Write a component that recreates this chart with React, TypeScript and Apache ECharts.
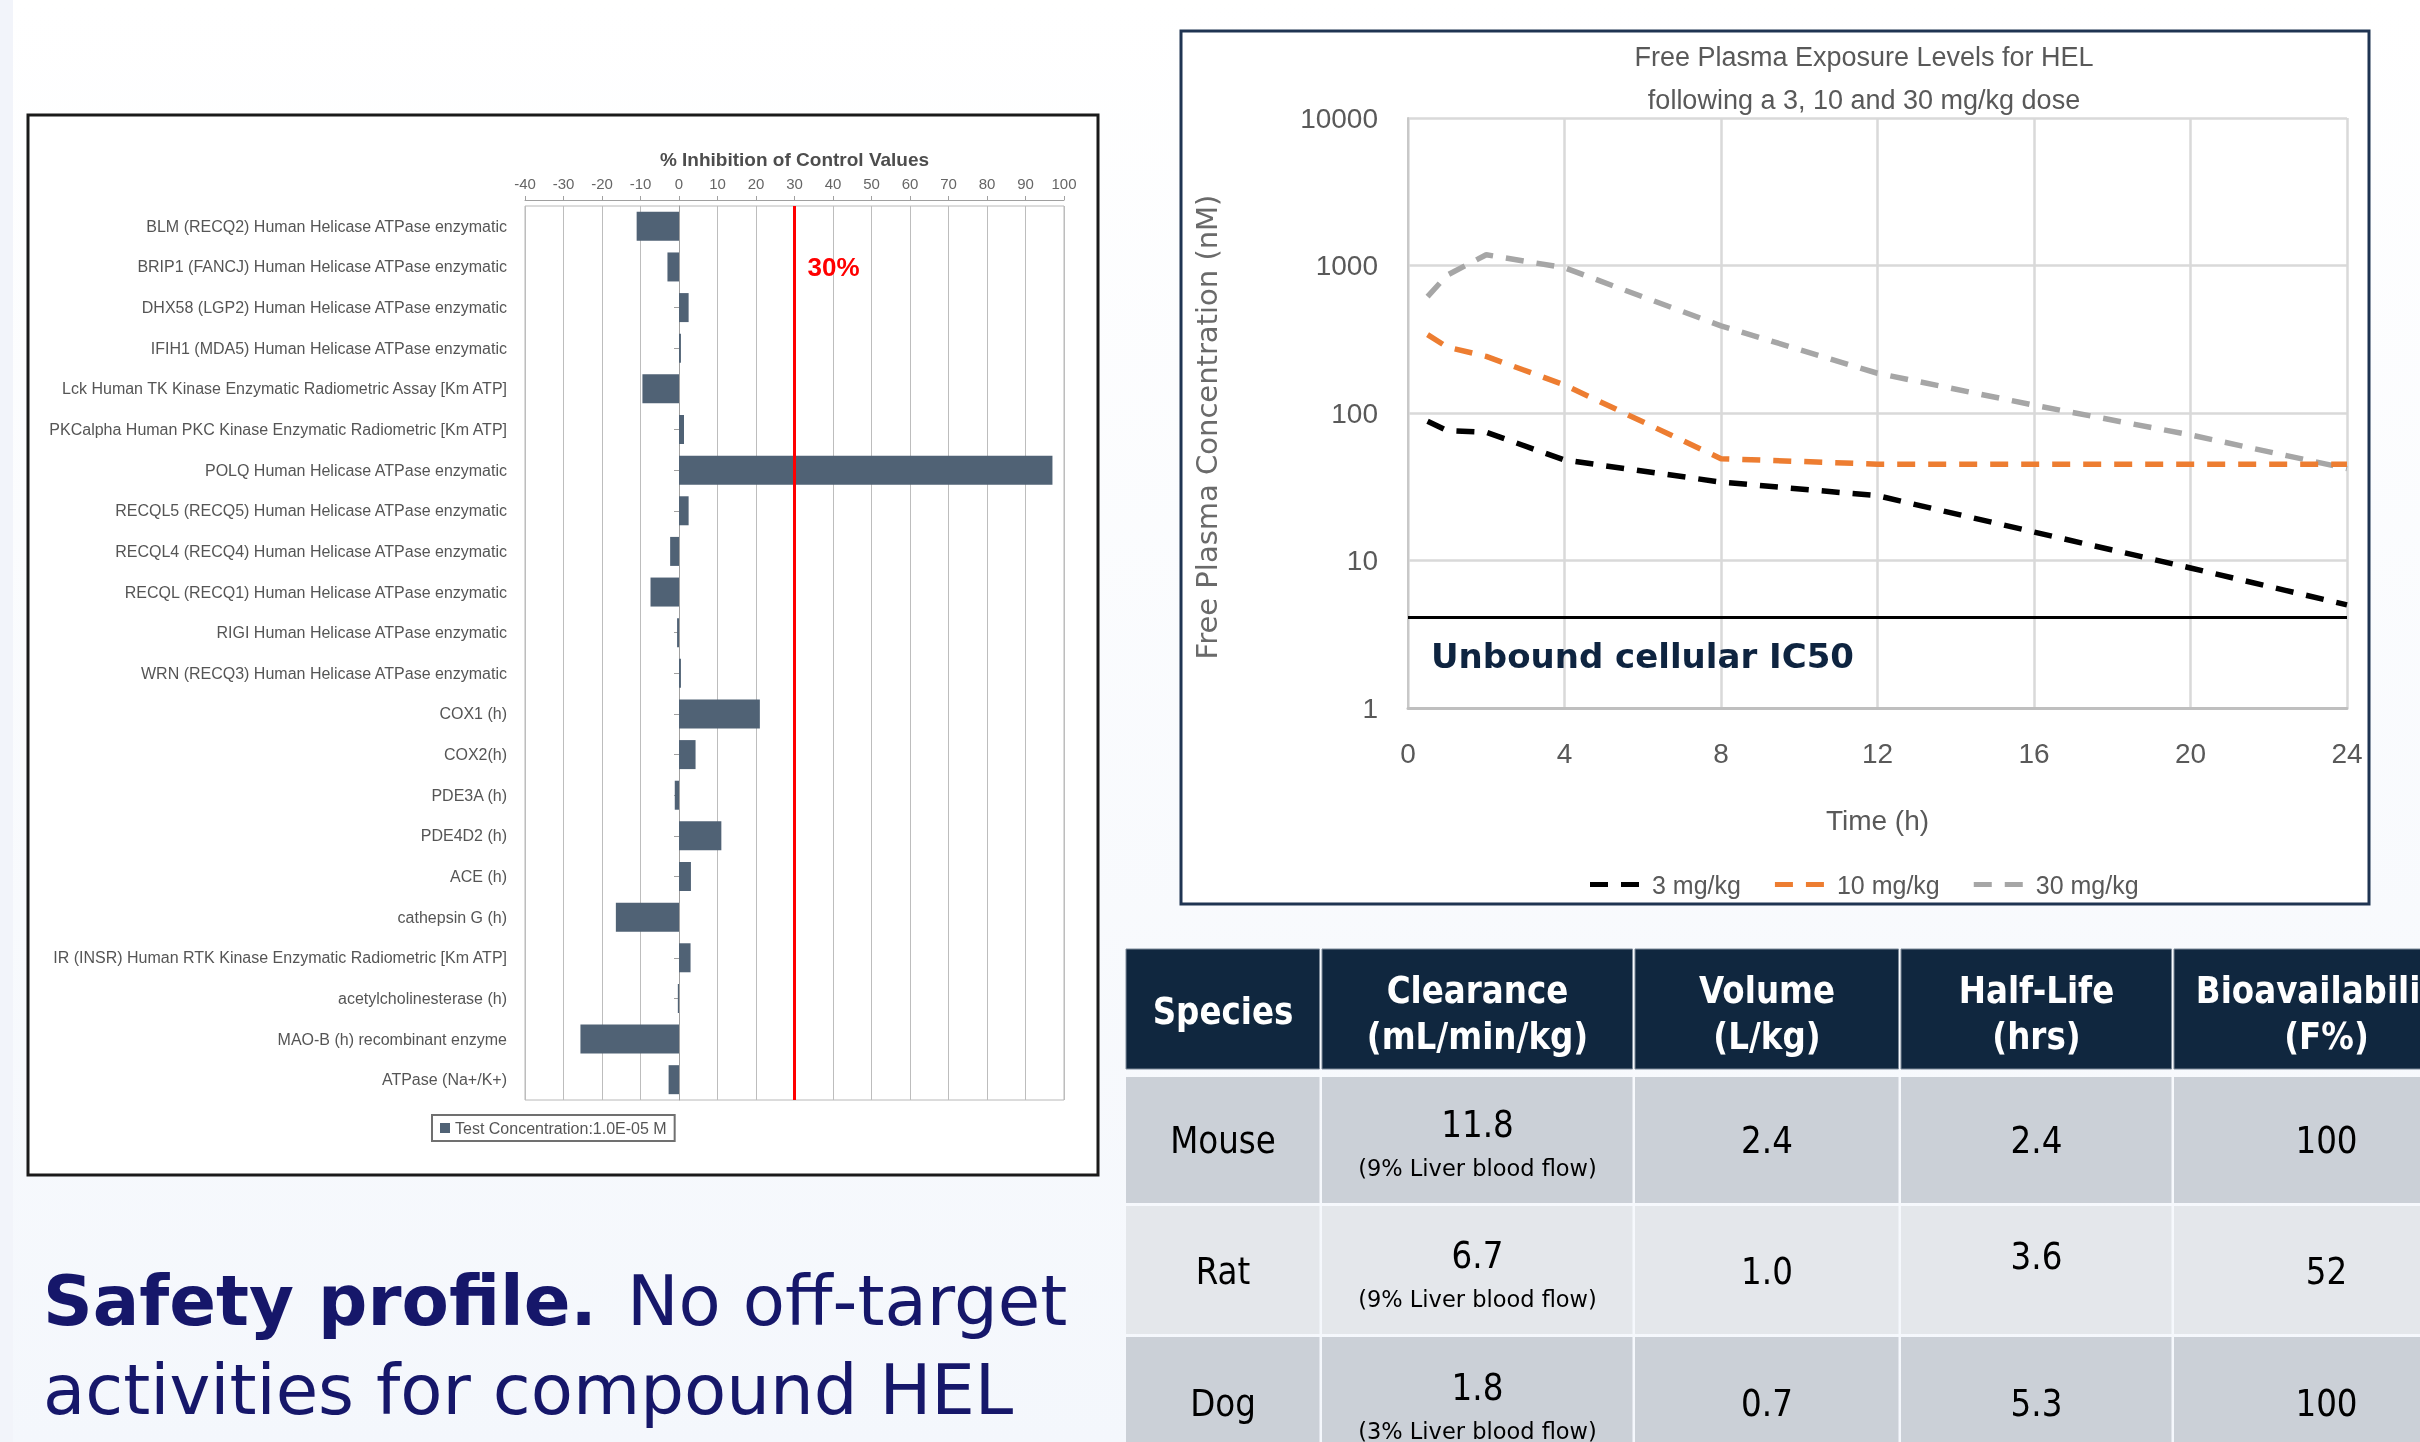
import React, { useEffect, useRef } from 'react';
import * as echarts from 'echarts';

// ---------------- Data: off-target panel ----------------
const assays = [
  'BLM (RECQ2) Human Helicase ATPase enzymatic',
  'BRIP1 (FANCJ) Human Helicase ATPase enzymatic',
  'DHX58 (LGP2) Human Helicase ATPase enzymatic',
  'IFIH1 (MDA5) Human Helicase ATPase enzymatic',
  'Lck Human TK Kinase Enzymatic Radiometric Assay [Km ATP]',
  'PKCalpha Human PKC Kinase Enzymatic Radiometric [Km ATP]',
  'POLQ Human Helicase ATPase enzymatic',
  'RECQL5 (RECQ5) Human Helicase ATPase enzymatic',
  'RECQL4 (RECQ4) Human Helicase ATPase enzymatic',
  'RECQL (RECQ1) Human Helicase ATPase enzymatic',
  'RIGI Human Helicase ATPase enzymatic',
  'WRN (RECQ3) Human Helicase ATPase enzymatic',
  'COX1 (h)',
  'COX2(h)',
  'PDE3A (h)',
  'PDE4D2 (h)',
  'ACE (h)',
  'cathepsin G (h)',
  'IR (INSR) Human RTK Kinase Enzymatic Radiometric [Km ATP]',
  'acetylcholinesterase (h)',
  'MAO-B (h) recombinant enzyme',
  'ATPase (Na+/K+)',
];
const inhibition = [-11, -3, 2.5, 0.5, -9.5, 1.3, 97, 2.5, -2.3, -7.4, -0.5, 0.5, 21, 4.3, -1.1, 11, 3.1, -16.4, 3, -0.3, -25.6, -2.7];
const barSeriesName = 'Test Concentration:1.0E-05 M';
const threshold = 30;

// ---------------- Data: PK exposure ----------------
const hours = [0.5, 1, 2, 4, 8, 12, 16, 20, 24];
const dose3 = [88, 76, 74, 48, 34, 27.5, 15.6, 8.9, 5.0];
const dose10 = [340, 280, 242, 155, 49, 45, 45, 45, 45];
const dose30 = [616, 860, 1183, 965, 390, 186, 113, 71, 42];
const doseNames = ['3 mg/kg', '10 mg/kg', '30 mg/kg'];
const ic50 = 4.1;

// ---------------- Data: PK table ----------------
const tableHeaders = [['Species'], ['Clearance', '(mL/min/kg)'], ['Volume', '(L/kg)'], ['Half-Life', '(hrs)'], ['Bioavailability', '(F%)']];
const species = ['Mouse', 'Rat', 'Dog'];
const clearance = ['11.8', '6.7', '1.8'];
const clearanceNote = ['(9% Liver blood flow)', '(9% Liver blood flow)', '(3% Liver blood flow)'];
const volume = ['2.4', '1.0', '0.7'];
const halfLife = ['2.4', '3.6', '5.3'];
const bioavailability = ['100', '52', '100'];

const ARIAL = "'Liberation Sans', Arial, Helvetica, sans-serif";
const TAHOMA = "'DejaVu Sans', Verdana, sans-serif";
const NAVY = '#10273f';

function txt(x: number, y: number, text: string, size: number, bold: boolean, color: string, sx = 0.88, family = TAHOMA, align = 'center') {
  return {
    type: 'text', x, y, scaleX: sx, z: 20,
    style: { text, fontSize: size, fontWeight: bold ? 'bold' : 'normal', fontFamily: family, fill: color, align, verticalAlign: 'middle' },
  };
}

function buildGraphics() {
  const els: any[] = [];
  els.push({
    type: 'rect', z: -5, shape: { x: 0, y: 0, width: 2420, height: 1442 },
    style: { fill: { type: 'linear', x: 0, y: 0, x2: 0, y2: 1, colorStops: [{ offset: 0, color: '#ffffff' }, { offset: 1, color: '#f4f7fc' }] } },
  });
  els.push({ type: 'rect', z: -4, shape: { x: 0, y: 0, width: 13, height: 1442 }, style: { fill: '#f2f4fa' } });
  // left chart frame
  els.push({ type: 'rect', z: -3, shape: { x: 28, y: 115, width: 1070, height: 1060 }, style: { fill: '#ffffff', stroke: '#1a1a1a', lineWidth: 3 } });
  // right chart frame
  els.push({ type: 'rect', z: -3, shape: { x: 1181, y: 31, width: 1188, height: 873 }, style: { fill: '#ffffff', stroke: '#1f3452', lineWidth: 3 } });
  // right chart title
  els.push({
    type: 'text', x: 1864, y: 78, z: 20,
    style: { text: 'Free Plasma Exposure Levels for HEL\nfollowing a 3, 10 and 30 mg/kg dose', fontSize: 27, lineHeight: 43, fontFamily: ARIAL, fill: '#595959', align: 'center', verticalAlign: 'middle' },
  });

  // table
  const cols = [1125, 1321, 1634, 1900, 2173, 2480];
  const rows = [[949, 1069], [1077, 1203], [1206, 1334], [1337, 1470]];
  const rowFills = [NAVY, '#cbd0d7', '#e4e7eb', '#cbd0d7'];
  rows.forEach((r, ri) => {
    for (let c = 0; c < 5; c++) {
      els.push({
        type: 'rect', z: 10,
        shape: { x: cols[c] + 1, y: r[0], width: cols[c + 1] - cols[c] - 2.5, height: r[1] - r[0] },
        style: ri === 0 ? { fill: rowFills[ri], stroke: '#7d8a99', lineWidth: 1 } : { fill: rowFills[ri] },
      });
    }
  });
  const cx = (c: number) => (cols[c] + cols[c + 1]) / 2;
  tableHeaders.forEach((h, c) => {
    if (h.length === 1) els.push(txt(cx(c), 1011, h[0], 37, true, '#ffffff'));
    else {
      els.push(txt(cx(c), 990, h[0], 37, true, '#ffffff'));
      els.push(txt(cx(c), 1036, h[1], 37, true, '#ffffff'));
    }
  });
  const mids = [1140, 1271, 1403];
  species.forEach((s, i) => {
    const m = mids[i];
    els.push(txt(cx(0), m, s, 37, false, '#000000'));
    els.push(txt(cx(1), m - 16, clearance[i], 37, false, '#000000'));
    els.push(txt(cx(1), m + 28, clearanceNote[i], 22.5, false, '#000000', 1));
    els.push(txt(cx(2), m, volume[i], 37, false, '#000000'));
    els.push(txt(cx(3), i === 1 ? m - 15 : m, halfLife[i], 37, false, '#000000'));
    els.push(txt(cx(4), m, bioavailability[i], 37, false, '#000000'));
  });

  // bottom statement
  els.push(txt(43, 1301, 'Safety profile.', 69, true, '#16176a', 1, TAHOMA, 'left'));
  els.push(txt(627, 1301, 'No off-target', 69, false, '#16176a', 1, TAHOMA, 'left'));
  els.push(txt(43, 1390, 'activities for compound HEL', 69, false, '#16176a', 1, TAHOMA, 'left'));
  return els;
}

function buildOption() {
  const dashed = [18, 13];
  const lineSeries = [dose3, dose10, dose30].map((vals, k) => {
    const color = ['#000000', '#ed7d31', '#a6a6a6'][k];
    const s: any = {
      type: 'line', name: doseNames[k], xAxisIndex: 1, yAxisIndex: 1,
      data: hours.map((h, i) => [h, vals[i]]),
      symbol: 'none', z: 5 - k,
      itemStyle: { color },
      lineStyle: { color, width: 5.5, type: dashed, cap: 'butt' },
    };
    if (k === 0) {
      s.markLine = {
        silent: true, symbol: 'none', animation: false,
        data: [{ yAxis: ic50 }],
        lineStyle: { color: '#000000', width: 3, type: 'solid' },
        label: {
          show: true, position: 'insideStartBottom', formatter: 'Unbound cellular IC50', distance: [23, 21],
          fontSize: 34, fontWeight: 'bold', color: '#0e2440', fontFamily: TAHOMA,
        },
      };
    }
    return s;
  });

  return {
    animation: false,
    backgroundColor: 'transparent',
    graphic: { elements: buildGraphics() },
    grid: [
      { left: 525, top: 206, width: 539, height: 894, show: true, borderColor: '#b8b8b8', borderWidth: 1, backgroundColor: 'transparent', containLabel: false },
      { left: 1408, top: 118, width: 939, height: 590, containLabel: false },
    ],
    xAxis: [
      {
        gridIndex: 0, type: 'value', position: 'top', min: -40, max: 100, interval: 10, offset: 6,
        name: '% Inhibition of Control Values', nameLocation: 'middle', nameGap: 31,
        nameTextStyle: { fontSize: 19, fontWeight: 'bold', color: '#4d4d4d', fontFamily: ARIAL },
        axisLine: { show: true, lineStyle: { color: '#a0a0a0', width: 1 } },
        axisTick: { show: true, length: 4, lineStyle: { color: '#a0a0a0' } },
        axisLabel: { fontSize: 15, color: '#666666', margin: 9, fontFamily: ARIAL },
        splitLine: { show: true, lineStyle: { color: '#bdbdbd', width: 1 } },
      },
      {
        gridIndex: 1, type: 'value', min: 0, max: 24, interval: 4,
        name: 'Time (h)', nameLocation: 'middle', nameGap: 98,
        nameTextStyle: { fontSize: 28, color: '#595959', fontFamily: ARIAL },
        axisLine: { show: true, lineStyle: { color: '#bfbfbf', width: 3 } },
        axisTick: { show: false },
        axisLabel: { fontSize: 28, color: '#595959', margin: 31, fontFamily: ARIAL },
        splitLine: { show: true, lineStyle: { color: '#d9d9d9', width: 2.5 } },
      },
    ],
    yAxis: [
      {
        gridIndex: 0, type: 'category', data: assays, inverse: true,
        axisLine: { show: true, lineStyle: { color: '#a0a0a0' } },
        axisTick: { show: true, length: 5, alignWithLabel: true, lineStyle: { color: '#a0a0a0' } },
        axisLabel: { fontSize: 16, color: '#555555', margin: 18, fontFamily: ARIAL },
        splitLine: { show: false },
      },
      {
        gridIndex: 1, type: 'log', logBase: 10, min: 1, max: 10000,
        name: 'Free Plasma Concentration (nM)', nameLocation: 'middle', nameGap: 187, nameRotate: 90,
        nameTextStyle: { fontSize: 29, color: '#6a6a6a', fontFamily: TAHOMA, padding: [0, 28, 0, 0] },
        axisLine: { show: true, lineStyle: { color: '#c8c8c8', width: 2 } },
        axisTick: { show: false },
        axisLabel: { fontSize: 28, color: '#595959', margin: 30, fontFamily: ARIAL, formatter: (v: number) => String(Math.round(v)) },
        splitLine: { show: true, lineStyle: { color: '#d9d9d9', width: 2.5 } },
      },
    ],
    legend: [
      {
        data: [barSeriesName], left: 432, top: 1115, icon: 'rect', itemWidth: 10, itemHeight: 10,
        padding: [5, 8], borderColor: '#707070', borderWidth: 2, selectedMode: false,
        textStyle: { fontSize: 16, color: '#555555', fontFamily: ARIAL },
      },
      {
        data: doseNames.map((n) => ({ name: n, icon: 'path://M0,0h18v5h-18zM31,0h18v5h-18z' })),
        left: 1590, top: 872, itemWidth: 49, itemHeight: 5, itemGap: 34, selectedMode: false, padding: 0,
        textStyle: { fontSize: 25, color: '#595959', fontFamily: ARIAL, padding: [0, 0, 0, 8] },
      },
    ],
    series: [
      {
        type: 'bar', name: barSeriesName, xAxisIndex: 0, yAxisIndex: 0, data: inhibition, barWidth: 29,
        itemStyle: { color: '#506275' },
        markLine: {
          silent: true, symbol: 'none', data: [{ xAxis: threshold }],
          lineStyle: { color: '#ff0000', width: 3, type: 'solid' }, label: { show: false },
        },
        markPoint: {
          silent: true, symbol: 'circle', symbolSize: 0,
          data: [{ coord: [threshold, 1] }],
          label: { show: true, formatter: threshold + '%', position: 'right', distance: 13, fontSize: 26, fontWeight: 'bold', color: '#ff0000', fontFamily: ARIAL },
        },
      },
      ...lineSeries,
    ],
  };
}

export default function App() {
  const ref = useRef<HTMLDivElement>(null);
  useEffect(() => {
    if (!ref.current) return;
    const chart = echarts.init(ref.current, undefined, { renderer: 'svg', width: 2420, height: 1442 });
    chart.setOption(buildOption() as any);
    return () => chart.dispose();
  }, []);
  return <div ref={ref} style={{ position: 'fixed', left: 0, top: 0, width: 2420, height: 1442 }} />;
}
